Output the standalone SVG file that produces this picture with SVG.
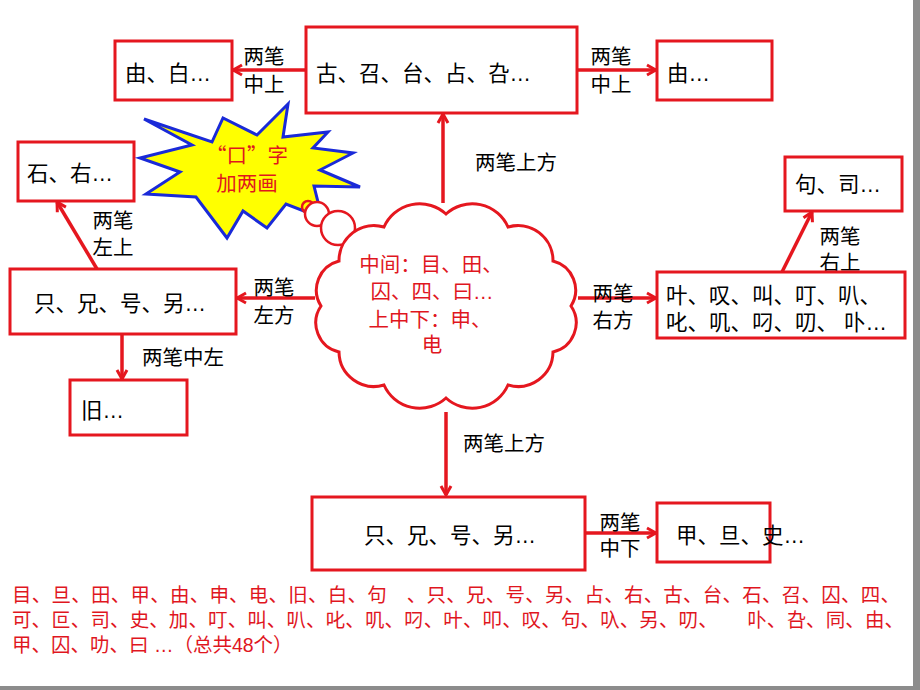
<svg xmlns="http://www.w3.org/2000/svg" width="920" height="690" viewBox="0 0 920 690">
<defs>
<style>
text{font-family:"Liberation Sans","Noto Sans CJK SC",sans-serif;}
.box{fill:#fff;stroke:#e5171f;stroke-width:3;}
.bt{font-size:21.5px;fill:#000;}
.lb{font-size:20.5px;fill:#000;text-anchor:middle;}
.con{stroke:#e5171f;stroke-width:3.5;fill:none;marker-end:url(#ah);}
.rt{font-size:19.5px;fill:#e0161e;}
.ct{font-size:20.5px;fill:#e0161e;text-anchor:middle;}
.cjk{font-family:"Noto Sans CJK SC",sans-serif;}
</style>
<marker id="ah" viewBox="0 0 14 14" refX="12" refY="7" markerWidth="14" markerHeight="14" markerUnits="userSpaceOnUse" orient="auto">
<path d="M3,2 L12,7 L3,12" fill="none" stroke="#e5171f" stroke-width="3"/>
</marker>
</defs>
<rect x="0" y="0" width="920" height="690" fill="#fff"/>
<rect x="913" y="0" width="7" height="690" fill="#8c8c8c"/>
<rect x="0" y="686" width="920" height="4" fill="#8c8c8c"/>

<g id="connectors">
<line class="con" x1="306" y1="70" x2="233" y2="70"/>
<line class="con" x1="577" y1="70" x2="656" y2="70"/>
<line class="con" x1="443" y1="203" x2="443" y2="114"/>
<line class="con" x1="315" y1="298" x2="237" y2="298"/>
<line class="con" x1="97" y1="269" x2="57" y2="202"/>
<line class="con" x1="122" y1="334" x2="122" y2="379"/>
<line class="con" x1="578" y1="298" x2="656" y2="298"/>
<line class="con" x1="782" y1="272" x2="812" y2="212"/>
<line class="con" x1="446" y1="412" x2="446" y2="495"/>
<line class="con" x1="585" y1="533" x2="656" y2="533"/>
<text class="lb" x="264" y="64">两笔</text>
<text class="lb" x="264" y="92">中上</text>
<text class="lb" x="611" y="64">两笔</text>
<text class="lb" x="611" y="92">中上</text>
<text class="lb" x="516" y="170">两笔上方</text>
<text class="lb" x="113" y="228">两笔</text>
<text class="lb" x="113" y="255">左上</text>
<text class="lb" x="274" y="295">两笔</text>
<text class="lb" x="274" y="323">左方</text>
<text class="lb" x="183" y="365">两笔中左</text>
<text class="lb" x="613" y="301">两笔</text>
<text class="lb" x="613" y="328">右方</text>
<text class="lb" x="840" y="244">两笔</text>
<text class="lb" x="840" y="270">右上</text>
<text class="lb" x="504" y="451">两笔上方</text>
<text class="lb" x="620" y="530">两笔</text>
<text class="lb" x="620" y="556">中下</text>
</g>

<g id="n_youbai">
<rect class="box" x="115" y="41" width="117" height="59"/>
<text class="bt" x="125" y="81">由、白…</text>
</g>
<g id="n_gu">
<rect class="box" x="306" y="27" width="271" height="86"/>
<text class="bt" x="316" y="81">古、召、台、占、叴…</text>
</g>
<g id="n_you">
<rect class="box" x="657" y="41" width="115" height="59"/>
<text class="bt" x="667" y="81">由…</text>
</g>
<g id="n_shi">
<rect class="box" x="18" y="142" width="116" height="59"/>
<text class="bt" x="27" y="181">石、右…</text>
</g>
<g id="n_zhi_left">
<rect class="box" x="10" y="269" width="226" height="65"/>
<text class="bt" x="34" y="311">只、兄、号、另…</text>
</g>
<g id="n_jiu">
<rect class="box" x="70" y="380" width="117" height="55"/>
<text class="bt" x="81" y="418">旧…</text>
</g>
<g id="n_ye">
<rect class="box" x="657" y="272" width="248" height="66"/>
<text class="bt" x="666" y="303">叶、叹、叫、叮、叭、</text>
<text class="bt" x="666" y="330">叱、叽、叼、叨、 卟…</text>
</g>
<g id="n_ju">
<rect class="box" x="785" y="157" width="117" height="54"/>
<text class="bt" x="795" y="192">句、司…</text>
</g>
<g id="n_zhi_bottom">
<rect class="box" x="312" y="497" width="273" height="73"/>
<text class="bt" x="450" y="543" text-anchor="middle">只、兄、号、另…</text>
</g>
<g id="n_jia">
<rect class="box" x="657" y="503" width="113" height="59"/>
<text class="bt" x="676" y="543">甲、旦、史…</text>
</g>

<g id="n_star">
<polygon points="144,119 192,145 140,158 180,172 146,194 196,197 227,238 243,211 267,228 286,204 322,218 314,186 360,187 320,170 353,153 313,148 328,132 283,137 288,104 257,135 223,118 212,142" fill="#ffff00" stroke="#1a2ad8" stroke-width="3" stroke-linejoin="miter"/>
<text class="ct cjk" x="247" y="163" font-size="22">“口”字</text>
<text class="ct cjk" x="247" y="191" font-size="22">加两画</text>
</g>

<g id="n_cloud">
<circle cx="308" cy="207" r="6" fill="none" stroke="#e5171f" stroke-width="2.5"/>
<circle cx="317" cy="214" r="12" fill="#fff" stroke="#e5171f" stroke-width="2.5"/>
<circle cx="338" cy="228" r="17" fill="#fff" stroke="#e5171f" stroke-width="2.5"/>
<path d="M446,214 A39,39 0 0 1 508,227 A35,35 0 0 1 553,261 A30,30 0 0 1 571,306 A30,30 0 0 1 553,352 A35,35 0 0 1 508,385 A39,39 0 0 1 446,398 A39,39 0 0 1 384,385 A35,35 0 0 1 339,352 A30,30 0 0 1 321,306 A30,30 0 0 1 339,261 A35,35 0 0 1 384,227 A39,39 0 0 1 446,214 Z" fill="#fff" stroke="#e5171f" stroke-width="3"/>
<text class="ct" x="431" y="272">中间：目、田、</text>
<text class="ct" x="432" y="299">囚、四、曰…</text>
<text class="ct" x="430" y="327">上中下：申、</text>
<text class="ct" x="432" y="352">电</text>
</g>

<g id="n_list">
<text class="rt" x="12" y="602" textLength="888" lengthAdjust="spacing">目、旦、田、甲、由、申、电、旧、白、句　、只、兄、号、另、占、右、古、台、石、召、囚、四、</text>
<text class="rt" x="12" y="627" textLength="892" lengthAdjust="spacing">可、叵、司、史、加、叮、叫、叭、叱、叽、叼、叶、叩、叹、句、叺、另、叨、　　卟、叴、同、由、</text>
<text class="rt" x="12" y="652">甲、囚、叻、曰 …（总共48个）</text>
</g>
</svg>
